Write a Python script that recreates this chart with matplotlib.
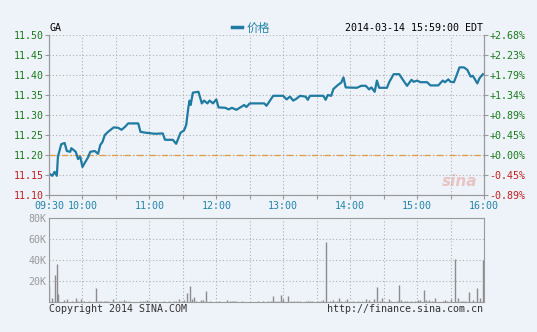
import matplotlib
matplotlib.use("Agg")
import matplotlib.pyplot as plt

# price trace: minutes after 09:30 and price
price_min = [0, 3, 5, 7, 8, 11, 14, 16, 19, 20, 24, 26, 28, 30, 32, 35, 37, 41, 44, 46,
             48, 50, 53, 58, 62, 65, 68, 71, 80, 82, 86, 95, 102, 104, 111, 114, 118, 121,
             123, 125, 126, 127, 129, 134, 137, 139, 142, 144, 147, 150, 152, 158, 161,
             164, 168, 171, 175, 177, 180, 189, 193, 195, 201, 210, 213, 216, 219, 222,
             225, 230, 232, 234, 246, 248, 250, 253, 255, 259, 262, 264, 266, 276, 280,
             284, 287, 289, 292, 294, 296, 303, 305, 309, 314, 318, 321, 325, 327, 330,
             333, 339, 342, 349, 353, 355, 358, 360, 363, 365, 368, 372, 375, 378, 380,
             384, 386, 389]
price = [11.154, 11.148, 11.158, 11.148, 11.196, 11.227, 11.230, 11.210, 11.208, 11.217,
         11.208, 11.190, 11.196, 11.170, 11.180, 11.194, 11.208, 11.210, 11.203, 11.225,
         11.233, 11.250, 11.258, 11.269, 11.268, 11.263, 11.270, 11.279, 11.279, 11.258,
         11.256, 11.253, 11.254, 11.238, 11.238, 11.228, 11.256, 11.261, 11.275, 11.320,
         11.336, 11.325, 11.356, 11.358, 11.329, 11.336, 11.329, 11.336, 11.329, 11.339,
         11.319, 11.318, 11.314, 11.318, 11.313, 11.318, 11.325, 11.320, 11.329, 11.329,
         11.329, 11.323, 11.348, 11.348, 11.339, 11.346, 11.336, 11.341, 11.348, 11.346,
         11.338, 11.348, 11.348, 11.338, 11.350, 11.348, 11.365, 11.375, 11.381, 11.394,
         11.369, 11.368, 11.373, 11.373, 11.364, 11.369, 11.358, 11.386, 11.368, 11.368,
         11.382, 11.402, 11.402, 11.385, 11.373, 11.388, 11.383, 11.386, 11.382, 11.382,
         11.374, 11.374, 11.386, 11.382, 11.389, 11.383, 11.382, 11.396, 11.419, 11.419,
         11.413, 11.396, 11.398, 11.379, 11.392, 11.402]
prev_close = 11.20

# volume bars: minutes after 09:30 and volume (thousands)
vol_min = [0, 3, 5, 7, 8, 13, 16, 21, 24, 26, 29, 31, 36, 42, 45, 47, 49, 51, 53, 57,
           63, 65, 67, 69, 72, 82, 84, 86, 88, 90, 96, 103, 108, 112, 114, 117, 119, 121,
           124, 126, 128, 130, 132, 136, 138, 141, 144, 152, 160, 162, 164, 166, 168, 173,
           187, 192, 196, 199, 201, 203, 205, 208, 210, 214, 217, 220, 222, 225, 230, 232,
           234, 236, 241, 244, 246, 248, 252, 255, 258, 260, 262, 265, 267, 273, 277, 281,
           284, 287, 291, 294, 297, 299, 305, 307, 312, 314, 316, 319, 321, 325, 328, 331,
           333, 336, 338, 341, 343, 346, 353, 355, 357, 360, 364, 367, 369, 371, 373, 377,
           380, 384, 386, 389]
vol = [15.2, 3.5, 25.7, 36.0, 7.3, 2.0, 3.0, 1.0, 4.0, 1.3, 2.5, 1.0, 1.0, 13.3, 1.0,
       1.0, 1.0, 1.0, 1.0, 3.0, 1.0, 1.0, 2.0, 1.0, 1.0, 1.0, 1.0, 1.0, 2.0, 1.0, 1.0,
       1.0, 1.0, 1.0, 1.0, 3.0, 1.0, 1.5, 8.9, 15.2, 2.5, 5.0, 1.0, 2.0, 2.0, 10.8, 1.0,
       1.0, 2.0, 1.0, 1.0, 1.0, 1.0, 1.0, 1.0, 1.0, 1.0, 1.0, 5.7, 1.0, 1.0, 7.0, 2.5,
       5.7, 1.0, 1.0, 1.0, 1.0, 1.0, 1.0, 1.0, 1.0, 1.0, 1.0, 2.0, 56.8, 1.0, 2.0, 1.0,
       4.0, 1.0, 1.0, 3.0, 1.0, 1.0, 1.0, 3.0, 2.0, 3.0, 14.3, 1.0, 4.0, 2.5, 1.0, 1.0,
       16.5, 2.0, 1.0, 1.0, 1.0, 1.0, 2.0, 2.0, 11.4, 2.0, 2.0, 1.0, 4.0, 1.0, 2.0, 1.0,
       3.0, 41.0, 4.0, 1.0, 1.0, 1.0, 9.5, 2.0, 13.3, 3.5, 40.0]

time_ticks = [0, 30, 90, 150, 210, 270, 330, 390]
time_labels = ["09:30", "10:00", "11:00", "12:00", "13:00", "14:00", "15:00", "16:00"]
price_ticks = [11.10, 11.15, 11.20, 11.25, 11.30, 11.35, 11.40, 11.45, 11.50]
pct_labels = ["-0.89%", "-0.45%", "+0.00%", "+0.45%", "+0.89%", "+1.34%", "+1.79%",
              "+2.23%", "+2.68%"]
vol_ticks = [20, 40, 60, 80]
vol_labels = ["20K", "40K", "60K", "80K"]

bg = "#eef3fa"
line_col = "#1f7ba1"
green = "#1a7a1a"
red = "#c41e1e"
teal = "#2484a8"
spine = "#9a9a9a"
mono = "DejaVu Sans Mono"
fs = 7.2

W, H = 537, 332
fig = plt.figure(figsize=(W / 100, H / 100), dpi=100, facecolor=bg)


def box(x0, y0, x1, y1):
    return [x0 / W, 1 - y1 / H, (x1 - x0) / W, (y1 - y0) / H]


ax = fig.add_axes(box(49, 35, 484, 195))
ax.set_facecolor(bg)
ax.plot(price_min, price, color=line_col, lw=1.6, zorder=3)
ax.axhline(prev_close, color="#e39a3c", lw=0.9, dashes=(5, 2, 1, 2), zorder=2)
ax.set_xlim(0, 390)
ax.set_ylim(11.10, 11.50)
ax.set_xticks(range(0, 391, 30))
ax.set_xticklabels([time_labels[time_ticks.index(t)] if t in time_ticks else ""
                    for t in range(0, 391, 30)])
ax.set_yticks(price_ticks)
ax.set_yticklabels([f"{p:.2f}" for p in price_ticks])
ax.grid(True, color="#b0b0b0", ls=(0, (1, 2)), lw=0.8)
ax.tick_params(axis="both", length=3, color=spine, labelsize=fs, pad=1)
for lab in ax.get_xticklabels():
    lab.set_color(teal)
    lab.set_fontfamily(mono)
for lab, p in zip(ax.get_yticklabels(), price_ticks):
    lab.set_color(green if p >= prev_close else red)
    lab.set_fontfamily(mono)
for s in ax.spines.values():
    s.set_color(spine)
ax.spines["top"].set_visible(False)

ax2 = ax.twinx()
ax2.set_ylim(11.10, 11.50)
ax2.set_yticks(price_ticks)
ax2.set_yticklabels(pct_labels)
ax2.tick_params(axis="y", length=3, color=spine, labelsize=fs, pad=1)
for lab, p in zip(ax2.get_yticklabels(), price_ticks):
    lab.set_color(green if p >= prev_close else red)
    lab.set_fontfamily(mono)
for s in ax2.spines.values():
    s.set_color(spine)
ax2.spines["top"].set_visible(False)

# watermark
ax.text(0.985, 0.04, "sina", transform=ax.transAxes, ha="right", va="bottom",
        fontsize=11, fontweight="bold", style="italic", color="#e8c4c4", zorder=1)

fig.text(49 / W, 1 - 28 / H, "GA", ha="left", va="center", fontsize=fs,
         family=mono, color="black")
fig.text(483 / W, 1 - 28 / H, "2014-03-14 15:59:00 EDT", ha="right", va="center",
         fontsize=fs, family=mono, color="black")
fig.lines.append(plt.Line2D([232 / W, 242 / W], [1 - 27 / H, 1 - 27 / H],
                            transform=fig.transFigure, color=line_col, lw=2.5))
fig.text(247 / W, 1 - 28 / H, "价格", ha="left", va="center", fontsize=8.5,
         family=["Noto Sans CJK SC", "DejaVu Sans"], color=teal)

axv = fig.add_axes(box(49, 218, 484, 302))
axv.set_facecolor(bg)
axv.vlines(vol_min, 0, vol, color="#8c8c8c", lw=1.0)
axv.set_xlim(0, 390)
axv.set_ylim(0, 80)
axv.set_xticks(range(0, 391, 30))
axv.set_xticklabels([])
axv.set_yticks(vol_ticks)
axv.set_yticklabels(vol_labels)
axv.grid(True, color="#b0b0b0", ls=(0, (1, 2)), lw=0.8)
axv.tick_params(axis="both", length=0, labelsize=fs, pad=2, labelcolor="#999999")
for lab in axv.get_yticklabels():
    lab.set_fontfamily(mono)
for s in axv.spines.values():
    s.set_color(spine)

fig.text(49 / W, 1 - 309 / H, "Copyright 2014 SINA.COM", ha="left", va="center",
         fontsize=fs, family=mono, color="#333333")
fig.text(483 / W, 1 - 309 / H, "http://finance.sina.com.cn", ha="right", va="center",
         fontsize=fs, family=mono, color="#333333")

fig.savefig("out.png", dpi=100, facecolor=bg)
